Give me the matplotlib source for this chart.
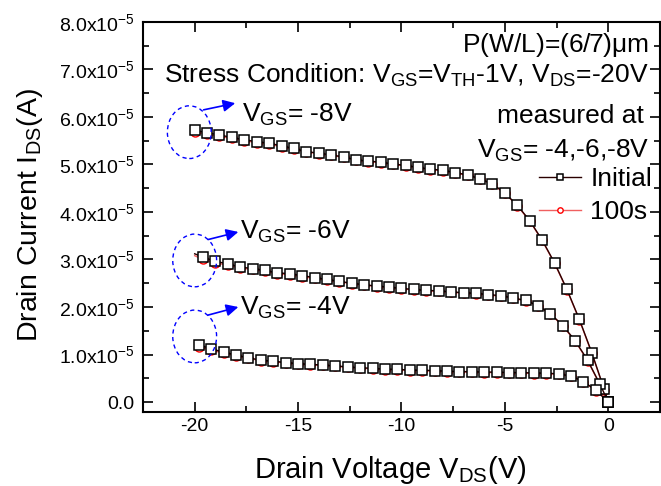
import matplotlib
matplotlib.use('Agg')
import matplotlib.pyplot as plt
from matplotlib.patches import Ellipse
from matplotlib.ticker import MultipleLocator, FixedLocator

plt.rcParams['font.family'] = ['Liberation Sans', 'DejaVu Sans']
plt.rcParams['mathtext.fontset'] = 'custom'
plt.rcParams['mathtext.rm'] = 'Liberation Sans'
plt.rcParams['mathtext.it'] = 'Liberation Sans:italic'
plt.rcParams['mathtext.default'] = 'regular'

# drain voltage sweep (V) for each gate bias
vds_8 = [-20.0, -19.4, -18.8, -18.2, -17.6, -17.0, -16.4, -15.8, -15.2, -14.6,
         -14.0, -13.4, -12.8, -12.2, -11.6, -11.0, -10.4, -9.8, -9.2, -8.6,
         -8.0, -7.4, -6.8, -6.2, -5.6, -5.0, -4.4, -3.8, -3.2, -2.6,
         -2.0, -1.4, -0.8, -0.2, 0.0]
vds_6 = [-20.0, -19.6, -19.0, -18.4, -17.8, -17.2, -16.6, -16.0, -15.4, -14.8,
         -14.2, -13.6, -13.0, -12.4, -11.8, -11.2, -10.6, -10.0, -9.4, -8.8,
         -8.2, -7.6, -7.0, -6.4, -5.8, -5.2, -4.6, -4.0, -3.4, -2.8,
         -2.2, -1.6, -1.0, -0.4, 0.0]
vds_4 = [-20.0, -19.8, -19.2, -18.6, -18.0, -17.4, -16.8, -16.2, -15.6, -15.0,
         -14.4, -13.8, -13.2, -12.6, -12.0, -11.4, -10.8, -10.2, -9.6, -9.0,
         -8.4, -7.8, -7.2, -6.6, -6.0, -5.4, -4.8, -4.2, -3.6, -3.0,
         -2.4, -1.8, -1.2, -0.6, 0.0]

# drain current in units of 1e-5 A
ids_8_init = [5.72, 5.67, 5.62, 5.57, 5.52, 5.48, 5.45, 5.39, 5.34, 5.27,
              5.24, 5.20, 5.16, 5.10, 5.07, 5.05, 5.01, 4.98, 4.94, 4.90,
              4.88, 4.83, 4.78, 4.70, 4.59, 4.40, 4.14, 3.82, 3.41, 2.93,
              2.37, 1.74, 1.04, 0.27, 0.0]
ids_8_100 = [5.69, 5.64, 5.59, 5.55, 5.50, 5.46, 5.43, 5.37, 5.32, 5.26,
             5.23, 5.19, 5.15, 5.09, 5.06, 5.04, 5.00, 4.97, 4.93, 4.89,
             4.87, 4.82, 4.77, 4.69, 4.58, 4.39, 4.13, 3.81, 3.40, 2.92,
             2.36, 1.73, 1.03, 0.26, 0.0]
ids_6_init = [3.12, 3.05, 2.96, 2.91, 2.84, 2.81, 2.77, 2.72, 2.70, 2.66,
              2.62, 2.58, 2.54, 2.50, 2.47, 2.44, 2.42, 2.39, 2.37, 2.35,
              2.34, 2.32, 2.30, 2.29, 2.26, 2.24, 2.19, 2.14, 2.03, 1.86,
              1.61, 1.29, 0.88, 0.37, 0.0]
ids_6_100 = [3.08, 3.00, 2.93, 2.88, 2.82, 2.79, 2.75, 2.70, 2.68, 2.64,
             2.60, 2.56, 2.53, 2.49, 2.46, 2.43, 2.41, 2.38, 2.36, 2.34,
             2.33, 2.31, 2.29, 2.28, 2.25, 2.23, 2.18, 2.13, 2.02, 1.85,
             1.60, 1.28, 0.87, 0.36, 0.0]
ids_4_init = [1.26, 1.20, 1.12, 1.05, 0.99, 0.93, 0.88, 0.86, 0.83, 0.81,
              0.79, 0.78, 0.76, 0.74, 0.72, 0.71, 0.69, 0.69, 0.67, 0.67,
              0.66, 0.65, 0.64, 0.64, 0.63, 0.63, 0.62, 0.62, 0.61, 0.61,
              0.59, 0.55, 0.43, 0.25, 0.0]
ids_4_100 = [1.22, 1.16, 1.09, 1.03, 0.97, 0.92, 0.87, 0.85, 0.82, 0.80,
             0.78, 0.77, 0.75, 0.73, 0.71, 0.70, 0.68, 0.68, 0.66, 0.66,
             0.65, 0.64, 0.63, 0.63, 0.62, 0.62, 0.61, 0.61, 0.60, 0.60,
             0.58, 0.54, 0.42, 0.24, 0.0]

ytick_vals = [0, 1, 2, 3, 4, 5, 6, 7, 8]
ytick_labels = ['0.0'] + ['%.1fx10$^{-5}$' % v for v in ytick_vals[1:]]

# gate bias labels: (label, ellipse centre, arrow tail, arrow head, text pos)
vgs_notes = [
    ('-8V', (-20.26, 5.68), (-19.57, 6.15), (-18.04, 6.29), (-17.72, 5.90)),
    ('-6V', (-20.0, 2.98), (-19.35, 3.42), (-17.89, 3.58), (-17.80, 3.43)),
    ('-4V', (-20.0, 1.38), (-19.35, 1.83), (-17.89, 2.00), (-17.80, 1.84)),
]

fig = plt.figure(figsize=(6.61, 4.86), dpi=100)
ax = fig.add_axes([0.2163, 0.1523, 0.7822, 0.8025])

curves = [(vds_8, ids_8_init, ids_8_100, None),
          (vds_6, ids_6_init, ids_6_100, range(1, 35)),
          (vds_4, ids_4_init, ids_4_100, range(1, 35))]
for vds, ini, s100, every in curves:
    r, = ax.plot(vds, s100, '-', color='#f06060', lw=1.0, marker='o', ms=6.5,
                 mfc='white', mec='red', mew=1.0, markevery=every, zorder=2)
    k, = ax.plot(vds, ini, '-', color='#2a0000', lw=1.0, marker='s', ms=6.5,
                 mfc='white', mec='black', mew=1.1, markevery=every, zorder=3)

ax.set_xlim(-22.5, 2.5)
ax.set_ylim(-0.21, 8.0)
ax.xaxis.set_major_locator(MultipleLocator(5))
ax.xaxis.set_minor_locator(MultipleLocator(2.5))
ax.yaxis.set_major_locator(FixedLocator(ytick_vals))
ax.yaxis.set_minor_locator(MultipleLocator(0.5))
ax.set_yticklabels(ytick_labels)
ax.set_xticks([-20, -15, -10, -5, 0])
ax.set_xticklabels(['-20', '-15', '-10', '-5', '0'])
ax.tick_params(which='both', direction='in', top=True, right=True,
               labelsize=14, width=1.2)
ax.tick_params(which='major', length=7, pad=6)
ax.tick_params(axis='x', which='major', pad=4)
ax.tick_params(which='minor', length=4)
for s in ax.spines.values():
    s.set_linewidth(1.5)

ax.set_xlabel('Drain Voltage V$_{DS}$(V)', fontsize=21)
ax.set_ylabel('Drain Current I$_{DS}$(A)', fontsize=20.5)
ax.xaxis.set_label_coords(0.478, -0.108)
ax.yaxis.set_label_coords(-0.19, 0.505)

for lab, c, tail, head, tp in vgs_notes:
    ax.add_patch(Ellipse(c, 2.12, 1.11, fill=False, ec='blue', ls=(0, (3, 2.5)),
                         lw=1.0, zorder=4))
    ax.annotate('', xy=head, xytext=tail,
                arrowprops=dict(arrowstyle='-|>,head_length=0.6,head_width=0.3',
                                color='blue', lw=1.2,
                                mutation_scale=12, shrinkA=0, shrinkB=0))
    ax.text(tp[0], tp[1], 'V$_{GS}$= ' + lab, fontsize=19, ha='left',
            va='baseline')

tr = ax.transAxes
ax.text(0.979, 0.923, 'P(W/L)=(6/7)$\\mu$m', transform=tr, fontsize=19,
        ha='right', va='baseline')
ax.text(0.979, 0.844, 'Stress Condition: V$_{GS}$=V$_{TH}$-1V, V$_{DS}$=-20V',
        transform=tr, fontsize=19, ha='right', va='baseline')
ax.text(0.969, 0.741, 'measured at', transform=tr, fontsize=19,
        ha='right', va='baseline')
ax.text(0.979, 0.651, 'V$_{GS}$= -4,-6,-8V', transform=tr, fontsize=19,
        ha='right', va='baseline')

ax.legend([k, r], ['Initial', '100s'], loc='upper right',
          bbox_to_anchor=(1.02, 0.675), frameon=False, fontsize=19,
          markerscale=0.6, handlelength=1.6, handletextpad=0.35,
          borderpad=0.2, labelspacing=0.35)

fig.savefig('out.png', dpi=100)
